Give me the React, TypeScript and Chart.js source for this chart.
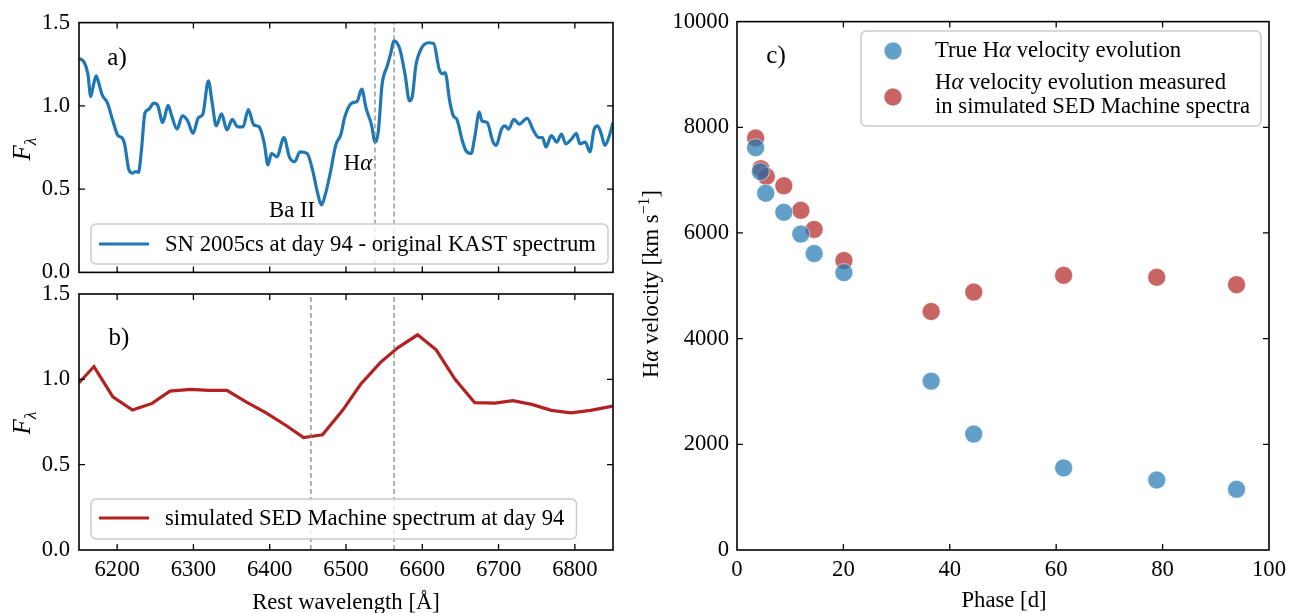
import React, { useEffect, useRef } from 'react';
import { Chart, registerables } from 'chart.js';
Chart.register(...registerables);

const FONT = "'Liberation Serif', 'Times New Roman', serif";
const FS = 22.7;

// ---------- Panel a: original KAST spectrum ----------
const kastWave = [6150, 6157.0, 6161.7, 6165.4, 6168.7, 6172.4, 6175.7, 6180.4, 6187.4, 6194.4, 6201.4, 6206.1, 6209.8, 6215.4, 6220.1, 6224.8, 6228.0, 6231.8, 6236.5, 6241.1, 6248.1, 6252.8, 6259.8, 6266.8, 6271.5, 6278.5, 6285.5, 6292.5, 6299.5, 6306.5, 6312.2, 6319.6, 6324.3, 6329.9, 6336.9, 6343.9, 6350.9, 6358.0, 6365.0, 6372.0, 6379.0, 6386.0, 6393.0, 6397.7, 6402.3, 6409.4, 6418.7, 6425.7, 6432.7, 6439.7, 6449.1, 6456.1, 6463.1, 6467.8, 6472.4, 6479.4, 6486.5, 6493.5, 6498.1, 6507.5, 6514.5, 6520.6, 6526.2, 6533.2, 6538.3, 6542.5, 6547.2, 6554.2, 6558.9, 6562.6, 6570.6, 6577.6, 6583.2, 6586.9, 6591.6, 6598.6, 6608.0, 6615.0, 6622.0, 6626.6, 6629.9, 6636.0, 6640.7, 6645.3, 6652.4, 6657.0, 6664.0, 6668.7, 6674.8, 6678.1, 6685.1, 6692.1, 6696.8, 6703.8, 6708.4, 6713.1, 6720.1, 6727.1, 6737.4, 6745.8, 6752.8, 6757.5, 6762.2, 6769.2, 6776.2, 6782.5, 6787.9, 6797.2, 6801.9, 6806.6, 6813.6, 6819.7, 6825.3, 6830.0, 6834.6, 6839.3, 6845.3, 6850.0];
const kastFlux = [1.285, 1.26, 1.19, 1.056, 1.12, 1.18, 1.14, 1.066, 1.017, 0.91, 0.82, 0.81, 0.77, 0.616, 0.596, 0.606, 0.6, 0.733, 0.958, 0.978, 1.017, 1.007, 0.9, 1.003, 0.94, 0.86, 0.94, 0.91, 0.835, 0.929, 0.948, 1.15, 1.027, 0.88, 0.952, 0.855, 0.919, 0.874, 0.874, 0.978, 0.886, 0.874, 0.772, 0.645, 0.714, 0.694, 0.81, 0.694, 0.665, 0.724, 0.714, 0.616, 0.47, 0.405, 0.46, 0.597, 0.763, 0.831, 0.929, 1.017, 1.027, 1.1, 0.988, 0.89, 0.782, 0.851, 1.125, 1.242, 1.32, 1.39, 1.34, 1.183, 1.03, 1.056, 1.242, 1.343, 1.379, 1.375, 1.222, 1.193, 1.2, 1.027, 0.94, 0.919, 0.792, 0.733, 0.714, 0.81, 0.962, 0.91, 0.9, 0.792, 0.763, 0.86, 0.88, 0.86, 0.919, 0.89, 0.925, 0.851, 0.81, 0.81, 0.753, 0.822, 0.782, 0.831, 0.772, 0.81, 0.835, 0.772, 0.782, 0.724, 0.86, 0.88, 0.831, 0.763, 0.822, 0.9];
const vlinesA = [6538, 6563];

// ---------- Panel b: simulated SEDM spectrum ----------
const sedmWave = [6150, 6169.6, 6194.4, 6220.1, 6245.8, 6269.2, 6296.3, 6320.6, 6343.9, 6369.6, 6395.3, 6421.0, 6444.4, 6469.2, 6495.8, 6519.2, 6544.9, 6568.2, 6593.9, 6618.2, 6643.0, 6668.7, 6695.3, 6718.7, 6743.5, 6769.2, 6794.9, 6820.6, 6850];
const sedmFlux = [0.98, 1.075, 0.898, 0.82, 0.859, 0.931, 0.941, 0.935, 0.935, 0.867, 0.804, 0.731, 0.659, 0.675, 0.82, 0.971, 1.098, 1.186, 1.261, 1.173, 1.0, 0.863, 0.861, 0.875, 0.853, 0.818, 0.804, 0.818, 0.843];
const vlinesB = [6454, 6563];

const waveTicks = [6200, 6300, 6400, 6500, 6600, 6700, 6800];
const fluxTicks = [0, 0.5, 1.0, 1.5];

// ---------- Panel c: velocities ----------
const phaseTrue = [3.5, 4.4, 5.4, 8.8, 12.0, 14.5, 20.1, 36.5, 44.5, 61.4, 78.9, 93.9];
const velTrue = [7614, 7160, 6753, 6392, 5979, 5611, 5250, 3196, 2194, 1554, 1325, 1149];
const phaseSedm = [3.5, 4.5, 5.5, 8.8, 12.0, 14.5, 20.1, 36.5, 44.5, 61.4, 78.9, 93.9];
const velSedm = [7798, 7216, 7069, 6893, 6429, 6068, 5479, 4514, 4882, 5199, 5162, 5022];
const phaseTicks = [0, 20, 40, 60, 80, 100];
const velTicks = [0, 2000, 4000, 6000, 8000, 10000];

const BLUE = '#1f77b4';
const RED = '#b22222';

type Seg = { t: string; it?: boolean; sup?: boolean; sub?: boolean };

function fontFor(seg: Seg, size: number) {
  const s = seg.sup || seg.sub ? size * 0.7 : size;
  return `${seg.it ? 'italic ' : ''}${s}px ${FONT}`;
}
function richWidth(ctx: CanvasRenderingContext2D, segs: Seg[], size: number) {
  let w = 0;
  for (const s of segs) { ctx.font = fontFor(s, size); w += ctx.measureText(s.t).width; }
  return w;
}
function drawRich(ctx: CanvasRenderingContext2D, segs: Seg[], x: number, yMid: number, size: number, align: 'left' | 'center' = 'left') {
  const w = richWidth(ctx, segs, size);
  let cx = align === 'center' ? x - w / 2 : x;
  const base = yMid + size * 0.32;
  ctx.textBaseline = 'alphabetic';
  ctx.textAlign = 'left';
  ctx.fillStyle = '#000';
  for (const s of segs) {
    ctx.font = fontFor(s, size);
    const dy = s.sup ? -size * 0.42 : s.sub ? size * 0.25 : 0;
    ctx.fillText(s.t, cx, base + dy);
    cx += ctx.measureText(s.t).width;
  }
  return w;
}
function drawRot(ctx: CanvasRenderingContext2D, segs: Seg[], x: number, y: number, size: number) {
  ctx.save();
  ctx.translate(x, y);
  ctx.rotate(-Math.PI / 2);
  drawRich(ctx, segs, 0, 0, size, 'center');
  ctx.restore();
}
function legendBox(ctx: CanvasRenderingContext2D, x: number, y: number, w: number, h: number) {
  ctx.save();
  ctx.beginPath();
  const r = 5;
  ctx.moveTo(x + r, y);
  ctx.arcTo(x + w, y, x + w, y + h, r);
  ctx.arcTo(x + w, y + h, x, y + h, r);
  ctx.arcTo(x, y + h, x, y, r);
  ctx.arcTo(x, y, x + w, y, r);
  ctx.closePath();
  ctx.fillStyle = 'rgba(255,255,255,0.8)';
  ctx.fill();
  ctx.strokeStyle = '#cccccc';
  ctx.lineWidth = 1.5;
  ctx.stroke();
  ctx.restore();
}
function legendDot(ctx: CanvasRenderingContext2D, x: number, y: number, fill: string) {
  ctx.beginPath();
  ctx.arc(x, y, 9, 0, Math.PI * 2);
  ctx.fillStyle = fill;
  ctx.fill();
  ctx.strokeStyle = 'rgba(255,255,255,0.55)';
  ctx.lineWidth = 1;
  ctx.stroke();
}

const framePlugin = {
  id: 'frameTicks',
  afterDraw(chart: any) {
    const { ctx, chartArea: a } = chart;
    const xs = chart.scales.x, ys = chart.scales.y;
    const L = 6;
    ctx.save();
    ctx.strokeStyle = '#000';
    ctx.lineWidth = 1.3;
    ctx.beginPath();
    xs.ticks.forEach((t: any) => {
      const p = xs.getPixelForValue(t.value);
      if (p < a.left + 1 || p > a.right - 1) return;
      ctx.moveTo(p, a.bottom); ctx.lineTo(p, a.bottom - L);
      ctx.moveTo(p, a.top); ctx.lineTo(p, a.top + L);
    });
    ys.ticks.forEach((t: any) => {
      const p = ys.getPixelForValue(t.value);
      if (p < a.top + 1 || p > a.bottom - 1) return;
      ctx.moveTo(a.left, p); ctx.lineTo(a.left + L, p);
      ctx.moveTo(a.right, p); ctx.lineTo(a.right - L, p);
    });
    ctx.stroke();
    ctx.lineWidth = 1.6;
    ctx.strokeRect(a.left, a.top, a.right - a.left, a.bottom - a.top);
    ctx.restore();
  },
};

function decoPlugin(ox: number, oy: number, draw: (ctx: CanvasRenderingContext2D) => void) {
  return {
    id: 'deco',
    afterDatasetsDraw(chart: any) {
      const ctx = chart.ctx as CanvasRenderingContext2D;
      ctx.save();
      ctx.translate(-ox, -oy);
      draw(ctx);
      ctx.restore();
    },
  };
}

const tickFont = { family: FONT, size: FS };

function setTicks(values: number[]) {
  return (s: any) => { s.ticks = values.map((v) => ({ value: v })); };
}

function vlineSets(vals: number[]) {
  return vals.map((v) => ({
    data: [{ x: v, y: 0 }, { x: v, y: 1.5 }],
    borderColor: '#808080',
    borderWidth: 1.2,
    borderDash: [5, 3],
    pointRadius: 0,
    order: 1,
  }));
}

// geometry (page coordinates)
const A = { left: 0, top: 0, width: 660, height: 295 };
const B = { left: 0, top: 270, width: 660, height: 343 };
const C = { left: 630, top: 0, width: 662, height: 613 };

function makeA(): any {
  return {
    type: 'line',
    data: {
      datasets: [
        {
          data: kastWave.map((w, i) => ({ x: w, y: kastFlux[i] })),
          borderColor: BLUE, borderWidth: 3.2, pointRadius: 0,
          cubicInterpolationMode: 'monotone', order: 2,
        },
        ...vlineSets(vlinesA),
      ],
    },
    options: {
      animation: false, responsive: false, devicePixelRatio: 1,
      layout: { padding: { top: 18, right: 47, left: 0, bottom: 0 } },
      plugins: { legend: { display: false }, tooltip: { enabled: false } },
      scales: {
        x: {
          type: 'linear', min: 6150, max: 6850,
          afterBuildTicks: setTicks(waveTicks),
          ticks: { display: false },
          grid: { display: false, drawTicks: false }, border: { display: false },
          afterFit: (s: any) => { s.height = 20; },
        },
        y: {
          type: 'linear', min: 0, max: 1.5,
          afterBuildTicks: setTicks(fluxTicks),
          ticks: { font: tickFont, color: '#000', padding: 9, callback: (v: any) => Number(v).toFixed(1) },
          grid: { display: false, drawTicks: false }, border: { display: false },
          afterFit: (s: any) => { s.width = 79; },
        },
      },
    },
    plugins: [
      framePlugin,
      decoPlugin(A.left, A.top, (ctx) => {
        drawRich(ctx, [{ t: 'a)' }], 117, 57, 25, 'center');
        drawRich(ctx, [{ t: 'H' }, { t: 'α', it: true }], 358, 163, FS, 'center');
        drawRich(ctx, [{ t: 'Ba II' }], 292, 210, FS, 'center');
        const segs = [{ t: 'SN 2005cs at day 94 - original KAST spectrum' }];
        const tw = richWidth(ctx, segs, FS);
        legendBox(ctx, 91, 224, 165 + tw + 12 - 91, 40);
        ctx.strokeStyle = BLUE; ctx.lineWidth = 3.2;
        ctx.beginPath(); ctx.moveTo(99, 244); ctx.lineTo(149, 244); ctx.stroke();
        drawRich(ctx, segs, 165, 244, FS, 'left');
        drawRot(ctx, [{ t: 'F', it: true }, { t: 'λ', it: true, sub: true }], 22, 149, 25);
      }),
    ],
  };
}

function makeB(): any {
  return {
    type: 'line',
    data: {
      datasets: [
        {
          data: sedmWave.map((w, i) => ({ x: w, y: sedmFlux[i] })),
          borderColor: RED, borderWidth: 3.2, pointRadius: 0, tension: 0, order: 2,
        },
        ...vlineSets(vlinesB),
      ],
    },
    options: {
      animation: false, responsive: false, devicePixelRatio: 1,
      layout: { padding: { top: 24, right: 47, left: 0, bottom: 0 } },
      plugins: { legend: { display: false }, tooltip: { enabled: false } },
      scales: {
        x: {
          type: 'linear', min: 6150, max: 6850,
          afterBuildTicks: setTicks(waveTicks),
          ticks: { font: tickFont, color: '#000', padding: 6, maxRotation: 0, callback: (v: any) => String(v) },
          grid: { display: false, drawTicks: false }, border: { display: false },
          afterFit: (s: any) => { s.height = 63; },
        },
        y: {
          type: 'linear', min: 0, max: 1.5,
          afterBuildTicks: setTicks(fluxTicks),
          ticks: { font: tickFont, color: '#000', padding: 9, callback: (v: any) => Number(v).toFixed(1) },
          grid: { display: false, drawTicks: false }, border: { display: false },
          afterFit: (s: any) => { s.width = 79; },
        },
      },
    },
    plugins: [
      framePlugin,
      decoPlugin(B.left, B.top, (ctx) => {
        drawRich(ctx, [{ t: 'b)' }], 119, 337, 25, 'center');
        const segs = [{ t: 'simulated SED Machine spectrum at day 94' }];
        const tw = richWidth(ctx, segs, FS);
        legendBox(ctx, 91, 499, 165 + tw + 12 - 91, 40);
        ctx.strokeStyle = RED; ctx.lineWidth = 3.2;
        ctx.beginPath(); ctx.moveTo(99, 518); ctx.lineTo(149, 518); ctx.stroke();
        drawRich(ctx, segs, 165, 518, FS, 'left');
        drawRot(ctx, [{ t: 'F', it: true }, { t: 'λ', it: true, sub: true }], 22, 423, 25);
        drawRich(ctx, [{ t: 'Rest wavelength [Å]' }], 346, 602, FS, 'center');
      }),
    ],
  };
}

function makeC(): any {
  return {
    type: 'scatter',
    data: {
      datasets: [
        {
          data: phaseTrue.map((p, i) => ({ x: p, y: velTrue[i] })),
          backgroundColor: 'rgba(31,119,180,0.7)', borderColor: 'rgba(255,255,255,0.55)', borderWidth: 1, pointRadius: 9,
        },
        {
          data: phaseSedm.map((p, i) => ({ x: p, y: velSedm[i] })),
          backgroundColor: 'rgba(178,34,34,0.7)', borderColor: 'rgba(255,255,255,0.55)', borderWidth: 1, pointRadius: 9,
        },
      ],
    },
    options: {
      animation: false, responsive: false, devicePixelRatio: 1,
      layout: { padding: { top: 18, right: 20, left: 0, bottom: 0 } },
      plugins: { legend: { display: false }, tooltip: { enabled: false } },
      scales: {
        x: {
          type: 'linear', min: 0, max: 100,
          afterBuildTicks: setTicks(phaseTicks),
          ticks: { font: tickFont, color: '#000', padding: 6, maxRotation: 0, callback: (v: any) => String(v) },
          grid: { display: false, drawTicks: false }, border: { display: false },
          afterFit: (s: any) => { s.height = 63; },
        },
        y: {
          type: 'linear', min: 0, max: 10000,
          afterBuildTicks: setTicks(velTicks),
          ticks: { font: tickFont, color: '#000', padding: 8, callback: (v: any) => String(v) },
          grid: { display: false, drawTicks: false }, border: { display: false },
          afterFit: (s: any) => { s.width = 107; },
        },
      },
    },
    plugins: [
      framePlugin,
      decoPlugin(C.left, C.top, (ctx) => {
        drawRich(ctx, [{ t: 'c)' }], 776, 55, 25, 'center');
        const l1: Seg[] = [{ t: 'True H' }, { t: 'α', it: true }, { t: ' velocity evolution' }];
        const l2: Seg[] = [{ t: 'H' }, { t: 'α', it: true }, { t: ' velocity evolution measured' }];
        const l3: Seg[] = [{ t: 'in simulated SED Machine spectra' }];
        const tw = Math.max(richWidth(ctx, l1, FS), richWidth(ctx, l2, FS), richWidth(ctx, l3, FS));
        legendBox(ctx, 861, 31, 935 + tw + 11 - 861, 95);
        legendDot(ctx, 893, 51, 'rgba(31,119,180,0.7)');
        legendDot(ctx, 893, 97, 'rgba(178,34,34,0.7)');
        drawRich(ctx, l1, 935, 50, FS, 'left');
        drawRich(ctx, l2, 935, 82, FS, 'left');
        drawRich(ctx, l3, 935, 106, FS, 'left');
        drawRot(ctx, [{ t: 'H' }, { t: 'α', it: true }, { t: ' velocity [km s' }, { t: '−1', sup: true }, { t: ']' }], 651, 284, FS);
        drawRich(ctx, [{ t: 'Phase [d]' }], 1004, 600, FS, 'center');
      }),
    ],
  };
}

function ChartCanvas({ box, make }: { box: { left: number; top: number; width: number; height: number }; make: () => any }) {
  const ref = useRef<HTMLCanvasElement>(null);
  useEffect(() => {
    const chart = new Chart(ref.current as HTMLCanvasElement, make());
    return () => chart.destroy();
  }, []);
  return (
    <canvas
      ref={ref}
      width={box.width}
      height={box.height}
      style={{ position: 'absolute', left: box.left, top: box.top, width: box.width, height: box.height }}
    />
  );
}

export default function App() {
  return (
    <div style={{ position: 'fixed', left: 0, top: 0, width: 1292, height: 613, background: '#fff', overflow: 'hidden' }}>
      <ChartCanvas box={A} make={makeA} />
      <ChartCanvas box={B} make={makeB} />
      <ChartCanvas box={C} make={makeC} />
    </div>
  );
}
